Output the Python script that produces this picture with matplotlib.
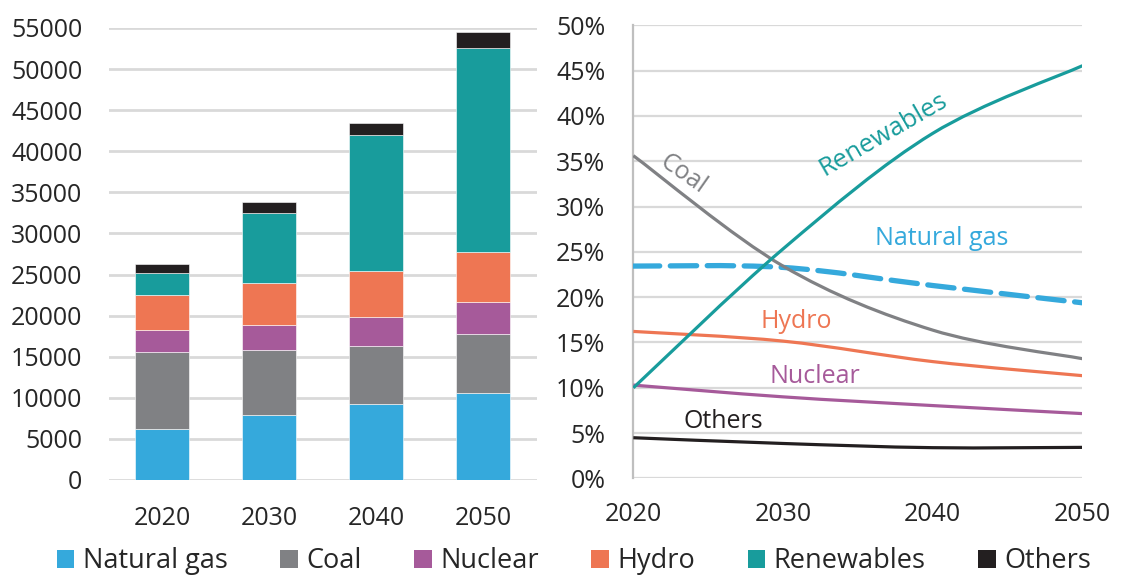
import numpy as np
import matplotlib
matplotlib.use('Agg')
import matplotlib.pyplot as plt
from matplotlib.path import Path
from matplotlib.patches import PathPatch, Patch

plt.rcParams['font.family'] = ['Open Sans', 'DejaVu Sans']

# %% data
years = [2020, 2030, 2040, 2050]
sources = ['Natural gas', 'Coal', 'Nuclear', 'Hydro', 'Renewables', 'Others']
natural_gas = [6170, 7870, 9250, 10550]
coal = [9380, 7920, 7110, 7190]
nuclear = [2710, 3040, 3490, 3890]
hydro = [4270, 5120, 5600, 6170]
renewables = [2630, 8560, 16550, 24800]
others = [1180, 1300, 1470, 1860]

colors = ['#35A9DC', '#808184', '#A65A9A', '#EE7653', '#189C9C', '#231F20']
series = [natural_gas, coal, nuclear, hydro, renewables, others]

yticks_left = list(range(0, 55001, 5000))
yticks_right = list(range(0, 51, 5))

txt_col = '#262626'
grid_col = '#D9D9D9'


def smooth_path(x, y):
    # Excel-like smoothed line: cubic bezier through the points
    x = np.asarray(x, float)
    y = np.asarray(y, float)
    pts = np.column_stack([x, y])
    n = len(pts)
    verts = [pts[0]]
    codes = [Path.MOVETO]
    for i in range(n - 1):
        p0 = pts[i - 1] if i > 0 else pts[i]
        p1 = pts[i]
        p2 = pts[i + 1]
        p3 = pts[i + 2] if i + 2 < n else pts[i + 1]
        c1 = p1 + (p2 - p0) / 6.0
        c2 = p2 - (p3 - p1) / 6.0
        verts += [c1, c2, p2]
        codes += [Path.CURVE4] * 3
    return Path(verts, codes)


fig = plt.figure(figsize=(11.34, 5.79), dpi=100, facecolor='white')

# =========================
# left: stacked bars
# =========================
ax1 = fig.add_axes([0.0959, 0.171, 0.3774, 0.7807])
xpos = np.arange(len(years))
bottom = np.zeros(len(years))
for vals, col, name in zip(series, colors, sources):
    ax1.bar(xpos, vals, bottom=bottom, width=0.5, color=col, label=name,
            edgecolor='white', linewidth=0.4, zorder=3)
    bottom += np.array(vals)

ax1.set_xlim(-0.5, 3.5)
ax1.set_ylim(0, 55000)
ax1.set_yticks(yticks_left)
ax1.set_xticks(xpos)
ax1.set_xticklabels([str(y) for y in years])
ax1.yaxis.grid(True, color=grid_col, linewidth=2.0, zorder=0)
ax1.set_axisbelow(True)
for s in ax1.spines.values():
    s.set_visible(False)
ax1.tick_params(axis='both', length=0, labelsize=18, colors=txt_col)
ax1.tick_params(axis='y', pad=19)
ax1.tick_params(axis='x', pad=19)

# =========================
# right: shares
# =========================
ax2 = fig.add_axes([0.5585, 0.1739, 0.396, 0.7824])
total = np.sum(np.array(series), axis=0)
share = [100.0 * np.array(v) / total for v in series]

for vals, col, name in zip(share, colors, sources):
    p = PathPatch(smooth_path(years, vals), fill=False, edgecolor=col,
                  linewidth=2.3, zorder=3)
    if name == 'Natural gas':
        p.set_linewidth(3.8)
        p.set_linestyle((0, (5.0, 2.0)))
        p.set_capstyle('round')
    ax2.add_patch(p)

ax2.set_xlim(2020, 2050)
ax2.set_ylim(0, 50)
ax2.set_xticks(years)
ax2.set_yticks(yticks_right)
ax2.set_yticklabels([f'{v}%' for v in yticks_right])
ax2.yaxis.grid(True, color=grid_col, linewidth=1.6, zorder=0)
ax2.set_axisbelow(True)
for k in ['top', 'right', 'bottom']:
    ax2.spines[k].set_visible(False)
ax2.spines['left'].set_color('#BFBFBF')
ax2.spines['left'].set_linewidth(1.6)
ax2.tick_params(axis='both', length=0, labelsize=18, colors=txt_col)
ax2.tick_params(axis='y', pad=20)
ax2.tick_params(axis='x', pad=17)

# line labels
ax2.text(2036.7, 37.9, 'Renewables', color=colors[4], fontsize=18.5,
         rotation=30, ha='center', va='center')
ax2.text(2023.3, 33.6, 'Coal', color=colors[1], fontsize=18,
         rotation=-35, ha='center', va='center')
ax2.text(2040.6, 26.5, 'Natural gas', color=colors[0], fontsize=18,
         ha='center', va='center')
ax2.text(2030.9, 17.3, 'Hydro', color=colors[3], fontsize=18,
         ha='center', va='center')
ax2.text(2032.1, 11.2, 'Nuclear', color=colors[2], fontsize=18,
         ha='center', va='center')
ax2.text(2026.0, 6.3, 'Others', color=colors[5], fontsize=18,
         ha='center', va='center')

# legend
handles = [Patch(facecolor=c, edgecolor='none', label=n) for c, n in zip(colors, sources)]
fig.legend(handles=handles, loc='lower center', ncol=6, frameon=False,
           bbox_to_anchor=(0.506, -0.036), fontsize=19.5,
           handlelength=0.65, handleheight=0.65, handletextpad=0.3,
           columnspacing=1.95, labelcolor=txt_col)

fig.savefig('out.png', dpi=100, facecolor='white')
